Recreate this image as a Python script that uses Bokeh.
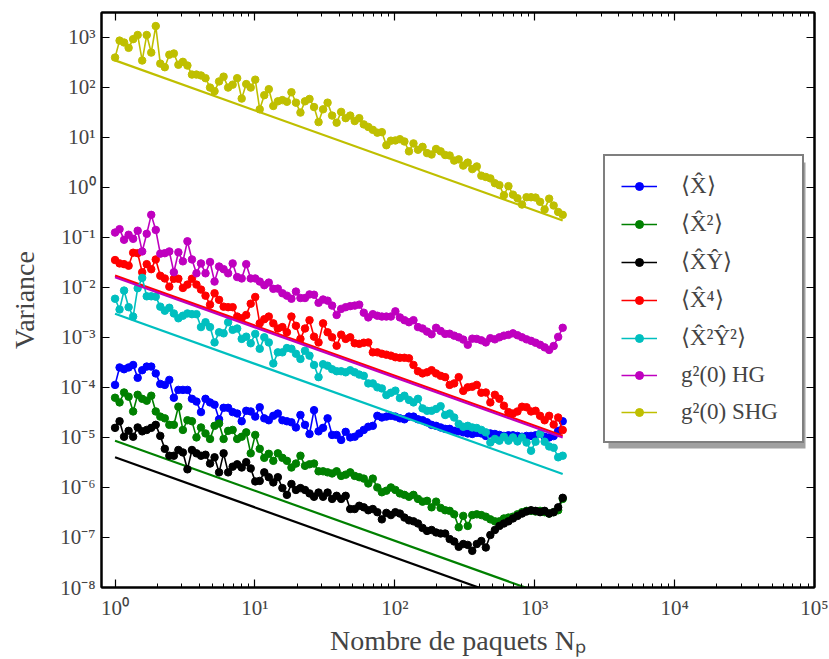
from bokeh.plotting import figure
from bokeh.models import (FixedTicker, CustomJSTickFormatter, LogAxis, Legend,
                          LegendItem, Range1d, BoxAnnotation)
from bokeh.embed import file_html
from bokeh.resources import INLINE

# ---------------- data ----------------
n_packets = [1.000, 1.077, 1.160, 1.250, 1.347, 1.451, 1.563, 1.684, 1.814, 1.954,
             2.105, 2.268, 2.443, 2.632, 2.836, 3.054, 3.291, 3.545, 3.819, 4.114,
             4.432, 4.775, 5.144, 5.541, 5.970, 6.431, 6.928, 7.464, 8.041, 8.662,
             9.326, 10.05, 10.82, 11.66, 12.56, 13.53, 14.58, 15.71, 16.92, 18.23,
             19.64, 21.15, 22.79, 24.55, 26.45, 28.49, 30.69, 33.06, 35.62, 38.37,
             41.33, 44.53, 47.97, 51.68, 55.67, 59.97, 64.60, 69.59, 74.97, 80.76,
             87.00, 93.72, 100.9, 108.7, 117.1, 126.2, 135.9, 146.4, 157.8, 169.9,
             183.1, 197.2, 212.5, 228.9, 246.6, 265.6, 286.2, 308.3, 332.1, 357.7,
             385.4, 415.2, 447.2, 481.8, 519.0, 559.1, 602.3, 648.8, 699.0, 752.9,
             811.1, 873.8, 941.3, 1014, 1092, 1177, 1268, 1366, 1471, 1585]

var_x = [1.12e-4, 2.5e-4, 2.3e-4, 2.5e-4, 2.8e-4, 1.55e-4, 2.2e-4, 2.6e-4, 2.6e-4, 1.9e-4,
         1.17e-4, 1.12e-4, 1.41e-4, 6.2e-5, 8.9e-5, 8.9e-5, 8.9e-5, 5.9e-5, 5.2e-5, 3.2e-5,
         5.9e-5, 5.0e-5, 4.5e-5, 2.3e-5, 3.9e-5, 3.9e-5, 3.2e-5, 3.0e-5, 2.1e-5, 3.4e-5,
         3.3e-5, 2.6e-5, 4.0e-5, 2.4e-5, 2.2e-5, 2.7e-5, 3.0e-5, 2.2e-5, 2.1e-5, 2.0e-5,
         1.58e-5, 2.8e-5, 1.78e-5, 1.17e-5, 3.5e-5, 1.32e-5, 1.55e-5, 2.4e-5, 1.12e-5, 1.12e-5,
         8.9e-6, 1.29e-5, 1.0e-5, 1.03e-5, 1.2e-5, 1.41e-5, 1.63e-5, 1.7e-5, 2.7e-5, 2.5e-5,
         2.6e-5, 2.7e-5, 2.6e-5, 2.4e-5, 2.3e-5, 2.6e-5, 2.6e-5, 2.3e-5, 2.2e-5, 2.0e-5,
         1.78e-5, 1.7e-5, 1.58e-5, 1.48e-5, 1.48e-5, 1.35e-5, 1.32e-5, 1.26e-5, 1.2e-5, 1.17e-5,
         1.23e-5, 1.2e-5, 1.07e-5, 1.2e-5, 1.17e-5, 1.12e-5, 1.07e-5, 1.1e-5, 1.1e-5, 1.07e-5,
         1.03e-5, 1.07e-5, 1.07e-5, 1.1e-5, 1.17e-5, 1.03e-5, 1.0e-5, 1.06e-5, 1.35e-5, 2.1e-5]

var_x2 = [6.2e-5, 5.0e-5, 7.9e-5, 6.5e-5, 3.3e-5, 7.1e-5, 5.9e-5, 5.4e-5, 6.8e-5, 3.3e-5,
          2.6e-5, 2.4e-5, 1.78e-5, 1.78e-5, 4.1e-5, 1.41e-5, 2.2e-5, 2.1e-5, 1.0e-5, 1.58e-5,
          1.2e-5, 9.3e-6, 1.7e-5, 1.9e-5, 9.3e-6, 1.35e-5, 1.41e-5, 9.3e-6, 1.03e-5, 1.26e-5,
          4.8e-6, 1.12e-5, 5.9e-6, 3.9e-6, 4.7e-6, 3.4e-6, 4.8e-6, 3.9e-6, 3.4e-6, 2.5e-6,
          3.0e-6, 4.3e-6, 2.7e-6, 2.9e-6, 3.0e-6, 2.1e-6, 2.1e-6, 2.0e-6, 1.9e-6, 2.1e-6,
          1.7e-6, 1.8e-6, 2.0e-6, 1.7e-6, 1.6e-6, 1.5e-6, 1.2e-6, 1.5e-6, 1.0e-6, 8.0e-7,
          8.6e-7, 1.0e-6, 8.9e-7, 7.6e-7, 7.1e-7, 6.5e-7, 7.1e-7, 5.9e-7, 5.2e-7, 5.4e-7,
          4.0e-7, 5.2e-7, 3.9e-7, 3.5e-7, 3.4e-7, 2.9e-7, 1.6e-7, 2.7e-7, 1.7e-7, 2.8e-7,
          2.9e-7, 2.8e-7, 2.6e-7, 2.3e-7, 2.1e-7, 2.1e-7, 2.4e-7, 2.5e-7, 2.6e-7, 2.9e-7,
          3.2e-7, 3.4e-7, 3.4e-7, 3.3e-7, 3.4e-7, 3.2e-7, 3.0e-7, 3.2e-7, 3.5e-7, 5.9e-7]

var_xy = [1.55e-5, 2.1e-5, 1.03e-5, 1.35e-5, 1.03e-5, 1.58e-5, 1.32e-5, 1.41e-5, 1.55e-5, 1.78e-5,
          1.07e-5, 5.9e-6, 4.3e-6, 4.3e-6, 5.6e-6, 5.0e-6, 2.3e-6, 5.6e-6, 4.8e-6, 4.3e-6,
          4.5e-6, 3.0e-6, 4.0e-6, 2.0e-6, 4.8e-6, 2.0e-6, 2.6e-6, 2.9e-6, 2.5e-6, 3.2e-6,
          2.4e-6, 1.32e-6, 1.35e-6, 2.0e-6, 1.6e-6, 1.26e-6, 1.6e-6, 9.7e-7, 7.1e-7, 1.17e-6,
          8.9e-7, 9.7e-7, 8.9e-7, 7.6e-7, 6.5e-7, 7.9e-7, 6.5e-7, 7.9e-7, 5.9e-7, 6.8e-7,
          5.9e-7, 6.8e-7, 3.7e-7, 3.7e-7, 4.3e-7, 4.0e-7, 3.5e-7, 3.7e-7, 3.2e-7, 2.3e-7,
          3.1e-7, 2.8e-7, 3.2e-7, 3.0e-7, 2.5e-7, 2.2e-7, 2.1e-7, 1.9e-7, 1.55e-7, 1.35e-7,
          1.41e-7, 1.26e-7, 1.2e-7, 1.2e-7, 9.3e-8, 8.3e-8, 6.5e-8, 7.4e-8, 7.1e-8, 5.4e-8,
          7.4e-8, 8.5e-8, 6.3e-8, 1.12e-7, 1.41e-7, 1.7e-7, 1.9e-7, 2.1e-7, 2.4e-7, 2.7e-7,
          3.0e-7, 3.3e-7, 3.5e-7, 3.4e-7, 3.2e-7, 3.4e-7, 3.0e-7, 3.2e-7, 4.0e-7, 6.2e-7]

var_x4 = [0.035, 0.030, 0.029, 0.027, 0.049, 0.048, 0.020, 0.029, 0.023, 0.036,
          0.017, 0.015, 0.0103, 0.0148, 0.0148, 0.0097, 0.0113, 0.0148, 0.0113, 0.0090,
          0.0068, 0.0045, 0.0076, 0.0056, 0.0041, 0.0040, 0.0040, 0.0026, 0.0024, 0.0028,
          0.0047, 0.0064, 0.0019, 0.0023, 0.0026, 0.0019, 0.0015, 0.0016, 0.00126, 0.0026,
          0.0017, 0.00093, 0.0015, 0.0022, 0.00103, 0.00079, 0.0019, 0.00126, 0.0010, 0.00068,
          0.00113, 0.00093, 0.0010, 0.00076, 0.00074, 0.00078, 0.00079, 0.00050, 0.00050, 0.00047,
          0.00045, 0.00043, 0.00040, 0.00039, 0.00039, 0.00038, 0.00028, 0.00021, 0.00019, 0.00020,
          0.00022, 0.00019, 0.00017, 0.00016, 0.000112, 0.000120, 0.00016, 0.000085, 0.000100, 0.000103,
          0.000112, 0.000078, 0.000079, 0.000050, 0.000071, 0.000059, 0.000043, 0.000032, 0.000030, 0.000033,
          0.000041, 0.000040, 0.000033, 0.000034, 0.000027, 0.000022, 0.000027, 0.000018, 0.000025, 0.000014]

var_x2y2 = [0.0059, 0.0036, 0.0086, 0.0040, 0.0026, 0.0096, 0.0154, 0.0066, 0.0066, 0.0065,
            0.0041, 0.0034, 0.0039, 0.0030, 0.0024, 0.0027, 0.0030, 0.0029, 0.0029, 0.0016,
            0.0020, 0.0016, 0.00079, 0.00126, 0.00120, 0.0020, 0.00141, 0.0015, 0.00093, 0.00103,
            0.00076, 0.00117, 0.00059, 0.0010, 0.00079, 0.00030, 0.00050, 0.00050, 0.00061, 0.00059,
            0.00047, 0.00037, 0.00054, 0.00043, 0.00028, 0.00016, 0.00029, 0.00027, 0.00023, 0.00021,
            0.00021, 0.00020, 0.00022, 0.00020, 0.00018, 0.00017, 0.00012, 0.00012, 0.00010, 0.000095,
            0.000070, 0.000078, 0.000086, 0.000061, 0.000068, 0.000056, 0.000050, 0.000059, 0.000038, 0.000034,
            0.000034, 0.000037, 0.000042, 0.000028, 0.000030, 0.000025, 0.0000186, 0.0000163, 0.000017, 0.0000158,
            0.0000154, 0.0000141, 0.0000126, 0.0000079, 0.0000093, 0.0000086, 0.0000103, 0.0000086, 0.0000100, 0.0000083,
            0.0000100, 0.0000079, 0.0000054, 0.0000082, 0.0000117, 0.0000082, 0.0000066, 0.0000062, 0.0000040, 0.0000043]

var_g2_hg = [0.124, 0.145, 0.089, 0.112, 0.093, 0.135, 0.052, 0.117, 0.28, 0.14,
             0.047, 0.048, 0.052, 0.020, 0.050, 0.033, 0.083, 0.036, 0.019, 0.030,
             0.019, 0.032, 0.013, 0.026, 0.023, 0.019, 0.030, 0.016, 0.015, 0.029,
             0.015, 0.015, 0.013, 0.011, 0.0124, 0.0093, 0.0094, 0.0076, 0.0068, 0.0059,
             0.0082, 0.0061, 0.0061, 0.0072, 0.0071, 0.0049, 0.0057, 0.0054, 0.0043, 0.0028,
             0.0037, 0.0040, 0.0042, 0.0043, 0.0045, 0.0031, 0.0025, 0.0029, 0.0027, 0.0026,
             0.0026, 0.0026, 0.0033, 0.0025, 0.0022, 0.0020, 0.0022, 0.0016, 0.0015, 0.0013,
             0.00115, 0.00155, 0.00134, 0.00117, 0.00118, 0.00108, 0.00100, 0.00090, 0.00071, 0.00094,
             0.00093, 0.00087, 0.00079, 0.00096, 0.00091, 0.00100, 0.00108, 0.00112, 0.00120, 0.00110,
             0.00100, 0.00091, 0.00085, 0.00078, 0.00071, 0.00063, 0.00056, 0.00067, 0.00102, 0.00155]

var_g2_shg = [390, 850, 780, 610, 910, 1100, 340, 1100, 490, 1660,
              295, 250, 445, 470, 280, 320, 270, 178, 178, 171,
              151, 98, 83, 130, 162, 98, 112, 151, 59, 115,
              98, 141, 36, 69, 91, 42, 52, 55, 51, 79,
              49, 31, 52, 58, 40, 20, 36, 49, 27, 19.5,
              32, 24, 27, 21, 24, 18, 16, 14, 12.3, 12.6,
              6.9, 8.5, 8.6, 9.1, 8.2, 5.2, 7.5, 5.6, 6.4, 4.8,
              4.5, 5.8, 5.2, 4.4, 4.3, 3.4, 3.6, 2.7, 3.1, 2.3,
              2.6, 1.7, 1.6, 1.5, 1.2, 1.1, 0.69, 1.05, 0.71, 0.60,
              0.45, 0.63, 0.63, 0.62, 0.51, 0.36, 0.59, 0.43, 0.32, 0.28]

# 1/N reference lines (end points)
fit_n = [1.0, 1585]
fit_x2 = [8.6e-6, 5.4e-9]
fit_xy = [4.0e-6, 2.5e-9]
fit_x4 = [0.0171, 1.08e-5]
fit_x2y2 = [2.95e-3, 1.86e-6]
fit_g2_hg = [0.0158, 9.97e-6]
fit_g2_shg = [342, 0.216]

x_ticks = [1, 10, 100, 1000, 10000, 100000]
x_minor = [m * d for d in [1, 10, 100, 1000, 10000] for m in range(2, 10)]
y_ticks = [1e-8, 1e-7, 1e-6, 1e-5, 1e-4, 1e-3, 1e-2, 1e-1, 1, 10, 100, 1000]

labels = ["⟨X̂⟩", "⟨X̂²⟩", "⟨X̂Ŷ⟩", "⟨X̂⁴⟩", "⟨X̂²Ŷ²⟩", "g²(0) HG", "g²(0) SHG"]
colors = ["#0000ff", "#008000", "#000000", "#ff0000", "#00bfbf", "#bf00bf", "#bfbf00"]
series = [var_x, var_x2, var_xy, var_x4, var_x2y2, var_g2_hg, var_g2_shg]
fits = [None, fit_x2, fit_xy, fit_x4, fit_x2y2, fit_g2_hg, fit_g2_shg]

FONT = "Liberation Serif"

p = figure(x_axis_type="log", y_axis_type="log",
           x_range=Range1d(0.8, 1e5), y_range=Range1d(1e-8, 3.1e3),
           frame_width=713, frame_height=575,
           min_border_left=101, min_border_right=15, min_border_top=12, min_border_bottom=72,
           output_backend="svg", toolbar_location=None)
p.xgrid.visible = False
p.ygrid.visible = False
p.outline_line_color = "black"
p.outline_line_width = 2
p.background_fill_color = "white"
p.border_fill_color = "white"

sup_code = """
const sup = {"-": "⁻", "0": "⁰", "1": "¹", "2": "²", "3": "³", "4": "⁴",
             "5": "⁵", "6": "⁶", "7": "⁷", "8": "⁸", "9": "⁹"};
const e = Math.round(Math.log10(tick));
return "10" + String(e).split("").map(c => sup[c]).join("");
"""
fmt = CustomJSTickFormatter(code=sup_code)
blank = CustomJSTickFormatter(code='return "";')

xticker = FixedTicker(ticks=x_ticks, minor_ticks=x_minor)
yticker = FixedTicker(ticks=y_ticks, minor_ticks=[])

def style_axis(ax, minor):
    ax.axis_line_width = 2
    ax.major_tick_in = 8
    ax.major_tick_out = 0
    ax.major_tick_line_width = 1.2
    if minor:
        ax.minor_tick_in = 4
        ax.minor_tick_out = 0
        ax.minor_tick_line_width = 1
    else:
        ax.minor_tick_line_color = None

xa = p.xaxis[0]
xa.ticker = xticker
xa.formatter = fmt
style_axis(xa, True)
xa.major_label_text_font = FONT
xa.major_label_text_font_size = "21px"
xa.major_label_standoff = 8
xa.axis_label = "Nombre de paquets Nₚ"
xa.axis_label_text_font = FONT
xa.axis_label_text_font_size = "28px"
xa.axis_label_text_font_style = "normal"
xa.axis_label_standoff = 2

ya = p.yaxis[0]
ya.ticker = yticker
ya.formatter = fmt
style_axis(ya, False)
ya.major_label_text_font = FONT
ya.major_label_text_font_size = "21px"
ya.major_label_standoff = 6
ya.axis_label = "Variance"
ya.axis_label_text_font = FONT
ya.axis_label_text_font_size = "28px"
ya.axis_label_text_font_style = "normal"
ya.axis_label_standoff = 17

top = LogAxis(ticker=xticker, formatter=blank, major_label_text_font_size="0px",
              major_label_standoff=0)
style_axis(top, True)
p.add_layout(top, "above")
right = LogAxis(ticker=yticker, formatter=blank, major_label_text_font_size="0px",
                major_label_standoff=0)
style_axis(right, False)
p.add_layout(right, "right")

items = []
for lab, col, ys, fit in zip(labels, colors, series, fits):
    ln = p.line(n_packets, ys, line_color=col, line_width=1.6)
    sc = p.scatter(n_packets, ys, size=7.5, fill_color=col, line_color=col, line_width=1)
    if fit is not None:
        p.line(fit_n, fit, line_color=col, line_width=2.2)
    items.append(LegendItem(label=lab, renderers=[ln, sc]))

# legend drop shadow (frame-relative screen units, y measured from frame bottom)
shadow = BoxAnnotation(left=507, right=704, top=425, bottom=139,
                       left_units="screen", right_units="screen",
                       top_units="screen", bottom_units="screen",
                       fill_color="#a0a0a0", fill_alpha=1.0, line_color=None)
p.add_layout(shadow)

legend = Legend(items=items, location=(502, 144), orientation="vertical",
                border_line_color="black", border_line_width=2,
                background_fill_color="white", background_fill_alpha=1.0,
                label_text_font=FONT, label_text_font_size="23px",
                glyph_width=36, glyph_height=20, label_height=20, label_width=105,
                label_standoff=24, spacing=11, padding=16, margin=0)
p.add_layout(legend, "center")

open("out.html", "w").write(file_html(p, INLINE))
